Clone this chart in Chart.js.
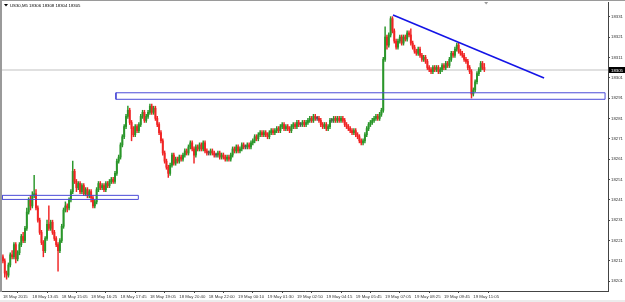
<!DOCTYPE html>
<html>
<head>
<meta charset="utf-8">
<script src="https://cdn.jsdelivr.net/npm/chart.js@4.4.1/dist/chart.umd.min.js"></script>
<style>
  html, body { margin: 0; padding: 0; background: #fff; overflow: hidden; }
  #wrap { width: 625px; height: 302px; position: relative; }
</style>
</head>
<body>
<div id="wrap"><canvas id="chart"></canvas></div>
<script>
// US30 M5 candles, 18 May 2015 12:25 .. 19 May 2015 ~11:25
const symbolTitle = 'US30,M5';

const opens = [
  18213,18211,18205,18204,18209,18214,18213,18219,18212,18215,
  18219,18223,18221,18227,18235,18241,18238,18243,18244,18237,
  18231,18225,18220,18216,18222,18229,18227,18230,18225,18222,
  18219,18216,18221,18228,18236,18238,18237,18241,18245,18255,
  18250,18247,18249,18245,18248,18244,18246,18243,18245,18242,
  18238,18240,18246,18249,18247,18248,18246,18249,18248,18250,
  18251,18250,18254,18260,18262,18268,18272,18277,18282,18285,
  18279,18276,18273,18277,18275,18278,18282,18284,18280,18282,
  18284,18287,18284,18286,18281,18278,18274,18270,18264,18260,
  18257,18254,18258,18263,18259,18261,18260,18262,18261,18263,
  18265,18264,18267,18269,18266,18263,18267,18266,18268,18266,
  18269,18265,18264,18264,18265,18264,18263,18263,18264,18262,
  18263,18262,18261,18262,18261,18263,18266,18265,18267,18265,
  18266,18268,18267,18267,18268,18267,18269,18270,18272,18271,
  18273,18274,18273,18274,18273,18272,18274,18275,18274,18275,
  18276,18275,18277,18278,18276,18277,18276,18275,18277,18278,
  18277,18279,18278,18278,18279,18278,18279,18280,18281,18280,
  18282,18281,18281,18280,18278,18277,18278,18276,18277,18280,
  18280,18281,18280,18281,18280,18281,18280,18278,18277,18276,
  18275,18274,18275,18273,18272,18270,18269,18270,18273,18276,
  18278,18279,18280,18281,18282,18281,18283,18285,18310,18321,
  18317,18322,18330,18324,18319,18316,18319,18321,18318,18321,
  18320,18323,18322,18318,18316,18314,18313,18315,18312,18310,
  18311,18309,18306,18305,18304,18306,18305,18306,18304,18305,
  18307,18306,18308,18307,18310,18313,18312,18315,18317,18314,
  18313,18312,18310,18309,18306,18304,18293,18295,18299,18303,
  18305,18308,18306
];

const highs = [
  18214,18212,18206,18210,18215,18216,18220,18220,18216,18220,
  18224,18225,18228,18237,18242,18243,18245,18253,18246,18238,
  18232,18226,18221,18223,18231,18238,18231,18231,18226,18223,
  18220,18222,18229,18237,18240,18239,18242,18246,18260,18256,
  18251,18250,18250,18249,18249,18247,18247,18246,18246,18243,
  18241,18247,18250,18250,18249,18249,18250,18250,18251,18252,
  18252,18255,18261,18263,18269,18273,18278,18283,18287,18286,
  18280,18277,18278,18278,18279,18283,18285,18285,18283,18285,
  18288,18288,18287,18287,18282,18279,18275,18271,18265,18261,
  18258,18259,18264,18264,18262,18262,18263,18263,18264,18266,
  18266,18268,18270,18270,18267,18268,18268,18269,18269,18270,
  18270,18266,18265,18266,18266,18265,18264,18265,18265,18264,
  18264,18263,18263,18263,18264,18267,18267,18268,18268,18267,
  18269,18269,18268,18269,18269,18270,18271,18273,18273,18274,
  18275,18275,18275,18275,18274,18275,18276,18276,18276,18277,
  18277,18278,18279,18279,18278,18278,18277,18278,18279,18279,
  18280,18280,18279,18280,18280,18280,18281,18282,18282,18283,
  18283,18282,18282,18281,18279,18279,18279,18278,18281,18281,
  18282,18282,18282,18282,18282,18282,18281,18279,18278,18277,
  18276,18276,18276,18274,18273,18271,18271,18274,18277,18279,
  18280,18281,18282,18283,18283,18284,18286,18311,18326,18322,
  18323,18331,18331,18325,18320,18320,18322,18322,18322,18322,
  18324,18324,18325,18319,18317,18315,18316,18316,18313,18312,
  18312,18310,18307,18306,18307,18307,18307,18307,18306,18308,
  18308,18309,18309,18311,18314,18314,18316,18318,18318,18315,
  18314,18313,18311,18310,18307,18305,18296,18300,18304,18306,
  18309,18309,18308
];

const lows = [
  18210,18203,18202,18203,18208,18212,18212,18210,18211,18214,
  18218,18220,18220,18226,18234,18236,18237,18242,18236,18230,
  18224,18219,18213,18215,18221,18226,18226,18224,18221,18218,
  18206,18215,18220,18227,18235,18235,18236,18240,18244,18249,
  18245,18246,18244,18244,18243,18243,18242,18242,18240,18237,
  18237,18239,18245,18246,18246,18245,18245,18247,18247,18249,
  18249,18249,18253,18259,18261,18267,18271,18276,18281,18278,
  18270,18272,18272,18274,18274,18277,18281,18279,18279,18281,
  18283,18283,18283,18280,18277,18273,18269,18263,18259,18256,
  18252,18253,18257,18258,18258,18259,18259,18260,18260,18262,
  18263,18263,18266,18265,18259,18262,18265,18265,18265,18265,
  18264,18263,18263,18263,18263,18262,18262,18262,18261,18261,
  18261,18260,18260,18260,18260,18262,18264,18264,18264,18264,
  18265,18266,18266,18266,18266,18266,18268,18269,18270,18270,
  18272,18272,18272,18272,18271,18271,18273,18273,18273,18274,
  18274,18274,18276,18275,18275,18275,18274,18274,18276,18276,
  18276,18277,18277,18277,18277,18277,18278,18279,18279,18279,
  18280,18280,18279,18277,18276,18276,18275,18275,18276,18279,
  18279,18279,18279,18279,18279,18279,18277,18276,18275,18274,
  18273,18273,18272,18271,18269,18268,18268,18269,18272,18275,
  18277,18278,18279,18280,18280,18280,18282,18284,18309,18315,
  18316,18321,18323,18318,18315,18315,18318,18317,18317,18319,
  18319,18321,18317,18315,18313,18312,18312,18311,18309,18309,
  18308,18305,18304,18303,18303,18304,18304,18303,18303,18304,
  18305,18305,18306,18306,18309,18311,18311,18314,18313,18312,
  18311,18309,18308,18305,18303,18291,18292,18294,18298,18302,
  18304,18305,18304
];

const closes = [
  18211,18205,18204,18209,18214,18213,18219,18212,18215,18219,
  18223,18221,18227,18235,18241,18238,18243,18244,18237,18231,
  18225,18220,18216,18222,18229,18227,18230,18225,18222,18219,
  18216,18221,18228,18236,18238,18237,18241,18245,18255,18250,
  18247,18249,18245,18248,18244,18246,18243,18245,18242,18238,
  18240,18246,18249,18247,18248,18246,18249,18248,18250,18251,
  18250,18254,18260,18262,18268,18272,18277,18282,18285,18279,
  18276,18273,18277,18275,18278,18282,18284,18280,18282,18284,
  18287,18284,18286,18281,18278,18274,18270,18264,18260,18257,
  18254,18258,18263,18259,18261,18260,18262,18261,18263,18265,
  18264,18267,18269,18266,18263,18267,18266,18268,18266,18269,
  18265,18264,18264,18265,18264,18263,18263,18264,18262,18263,
  18262,18261,18262,18261,18263,18266,18265,18267,18265,18266,
  18268,18267,18267,18268,18267,18269,18270,18272,18271,18273,
  18274,18273,18274,18273,18272,18274,18275,18274,18275,18276,
  18275,18277,18278,18276,18277,18276,18275,18277,18278,18277,
  18279,18278,18278,18279,18278,18279,18280,18281,18280,18282,
  18281,18281,18280,18278,18277,18278,18276,18277,18280,18280,
  18281,18280,18281,18280,18281,18280,18278,18277,18276,18275,
  18274,18275,18273,18272,18270,18269,18270,18273,18276,18278,
  18279,18280,18281,18282,18281,18283,18285,18310,18321,18317,
  18322,18330,18324,18319,18316,18319,18321,18318,18321,18320,
  18323,18322,18318,18316,18314,18313,18315,18312,18310,18311,
  18309,18306,18305,18304,18306,18305,18306,18304,18305,18307,
  18306,18308,18307,18310,18313,18312,18315,18317,18314,18313,
  18312,18310,18309,18306,18304,18293,18295,18299,18303,18305,
  18308,18306,18305
];

const xLabels = [
  '18 May 2015', '18 May 13:45', '18 May 15:05', '18 May 16:25', '18 May 17:45',
  '18 May 19:05', '18 May 20:40', '18 May 22:00', '19 May 00:10', '19 May 01:30',
  '19 May 02:50', '19 May 04:15', '19 May 05:45', '19 May 07:05', '19 May 08:25',
  '19 May 09:45', '19 May 11:05'
];
const xTickBars = [0, 16, 32, 48, 64, 80, 96, 112, 128, 144, 160, 176, 192, 208, 224, 240, 256];
const yTicks = [18201, 18211, 18221, 18231, 18241, 18251, 18261, 18271, 18281, 18291, 18301, 18311, 18321, 18331];

// drawn objects (bar index / price)
const upperZoneBars = [61.5, 327.7];
const upperZonePrices = [18290.4, 18293.6];
const lowerZoneBars = [-0.4, 73.7];
const lowerZonePrices = [18241.2, 18243.2];
const trendBars = [212.3, 294.5];
const trendPrices = [18331.8, 18300.9];

const upColor = '#2a962a';
const downColor = '#f02424';
const dojiColor = '#555555';
const FONT = '"Liberation Sans", Arial, sans-serif';

function candleColor(i) {
  if (closes[i] > opens[i]) return upColor;
  if (closes[i] < opens[i]) return downColor;
  return dojiColor;
}

function boxPoints(bx, py) {
  return [
    { x: bx[0], y: py[0] }, { x: bx[1], y: py[0] },
    { x: bx[1], y: py[1] }, { x: bx[0], y: py[1] }, { x: bx[0], y: py[0] }
  ];
}

const last = closes.length - 1;
const headerText = symbolTitle + ' ' + opens[last] + ' ' + highs[last] + ' ' + lows[last] + ' ' + closes[last];

const mtFrame = {
  id: 'mtFrame',
  beforeDraw(chart) {
    const c = chart.ctx;
    c.save();
    c.fillStyle = '#ffffff';
    c.fillRect(0, 0, chart.width, chart.height);
    c.restore();
  },
  beforeDatasetsDraw(chart) {
    // bid line
    const { ctx, chartArea: a, scales: { y } } = chart;
    const py = Math.round(y.getPixelForValue(closes[last]));
    ctx.save();
    ctx.fillStyle = '#e0e0e0';
    ctx.fillRect(a.left, py - 1, a.right - a.left, 2);
    ctx.restore();
  },
  afterDraw(chart) {
    const { ctx, chartArea: a, scales: { x, y } } = chart;
    const py = Math.round(y.getPixelForValue(closes[last]));
    ctx.save();
    ctx.font = '4.3px ' + FONT;
    ctx.textBaseline = 'middle';
    // price label
    ctx.fillStyle = '#000';
    ctx.fillRect(a.right + 1, py - 3, 17, 6);
    ctx.fillStyle = '#fff';
    ctx.fillText(String(closes[last]), a.right + 3, py + 0.5);
    // header
    ctx.fillStyle = '#000';
    ctx.beginPath();
    ctx.moveTo(4, 4); ctx.lineTo(8, 4); ctx.lineTo(6, 6.5); ctx.closePath();
    ctx.fill();
    ctx.fillText(headerText, 10, 5.5);
    // chart shift marker
    const sx = x.getPixelForValue(closes.length);
    ctx.fillStyle = '#999';
    ctx.beginPath();
    ctx.moveTo(sx - 2, a.top); ctx.lineTo(sx + 2, a.top); ctx.lineTo(sx, a.top + 2.5); ctx.closePath();
    ctx.fill();
    // window frame
    ctx.fillStyle = '#9a9a9a';
    ctx.fillRect(0, 0, 2, a.bottom + 1);
    ctx.fillRect(0, 0, chart.width, 1);
    ctx.fillStyle = '#ececec';
    ctx.fillRect(0, chart.height - 2, chart.width, 2);
    ctx.restore();
  }
};

new Chart(document.getElementById('chart'), {
  type: 'bar',
  data: {
    datasets: [
      {
        label: 'upper zone',
        type: 'line',
        data: boxPoints(upperZoneBars, upperZonePrices),
        borderColor: '#4b4bd8',
        borderWidth: 1,
        pointRadius: 0,
        fill: false,
        tension: 0,
        order: 1
      },
      {
        label: 'lower zone',
        type: 'line',
        data: boxPoints(lowerZoneBars, lowerZonePrices),
        borderColor: '#4b4bd8',
        borderWidth: 1,
        pointRadius: 0,
        fill: false,
        tension: 0,
        order: 1
      },
      {
        label: 'trend',
        type: 'line',
        data: trendBars.map((b, k) => ({ x: b, y: trendPrices[k] })),
        borderColor: '#1414e6',
        borderWidth: 1.6,
        pointRadius: 0,
        fill: false,
        order: 0
      },
      {
        label: 'wicks',
        data: closes.map((c, i) => ({ x: i, y: [lows[i], highs[i]] })),
        backgroundColor: ctx => candleColor(ctx.dataIndex),
        barThickness: 0.8,
        grouped: false,
        order: 3
      },
      {
        label: 'bodies',
        data: closes.map((c, i) => ({ x: i, y: [opens[i], closes[i]] })),
        backgroundColor: ctx => candleColor(ctx.dataIndex),
        barThickness: 1.3,
        minBarLength: 1,
        grouped: false,
        order: 2
      }
    ]
  },
  options: {
    responsive: true,
    maintainAspectRatio: false,
    devicePixelRatio: 1,
    animation: false,
    layout: { padding: { top: 2, left: 2, right: 0, bottom: 0 } },
    plugins: { legend: { display: false }, tooltip: { enabled: false } },
    scales: {
      x: {
        type: 'linear',
        min: -0.5,
        max: 329.3,
        offset: false,
        afterBuildTicks: axis => { axis.ticks = xTickBars.map(v => ({ value: v })); },
        afterFit: s => { s.height = 11; s.paddingLeft = 0; s.paddingRight = 0; },
        ticks: {
          autoSkip: false,
          maxRotation: 0,
          align: 'start',
          padding: 1,
          color: '#333',
          font: { family: FONT, size: 4.3 },
          callback: v => xLabels[xTickBars.indexOf(v)]
        },
        grid: { drawOnChartArea: false, tickLength: 2, color: '#444' },
        border: { color: '#444', width: 1 }
      },
      y: {
        position: 'right',
        min: 18196.2,
        max: 18338.2,
        afterBuildTicks: axis => { axis.ticks = yTicks.map(v => ({ value: v })); },
        afterFit: s => { s.width = 17; s.paddingTop = 0; s.paddingBottom = 0; },
        ticks: {
          padding: 1,
          color: '#333',
          font: { family: FONT, size: 4.3 },
          callback: v => String(v)
        },
        grid: { drawOnChartArea: false, tickLength: 2, color: '#444' },
        border: { color: '#444', width: 1 }
      }
    }
  },
  plugins: [mtFrame]
});
</script>
</body>
</html>
